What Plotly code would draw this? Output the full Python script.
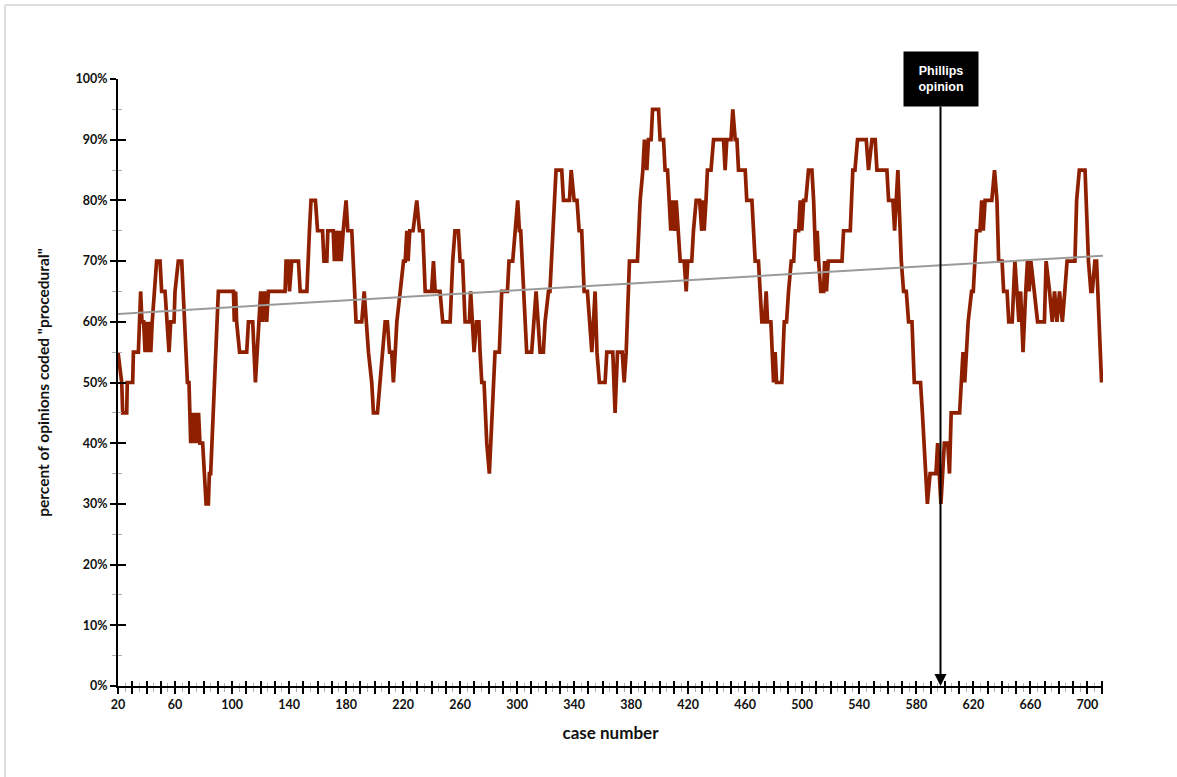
import plotly.graph_objects as go

# ---- data ----
case_x = [20, 22.6, 23.3, 26.1, 26.5, 30.3, 30.8, 34.3, 35.9, 36.8, 38, 39, 40, 41, 42, 43, 44,
          45.5, 47.1, 49.5, 50.6, 53, 54.2, 55.8, 57, 59.3, 60, 62.3, 64.7, 65.8, 68.7, 69.8,
          71, 72.2, 73.2, 74.5, 75.5, 76.5, 77.5, 79.4, 80.6, 81.8, 83.4, 84.1, 85, 90.4, 101,
          101.6, 102.5, 103.2, 105.3, 110.3, 111.5, 114.5, 116.4, 117.8, 120.1, 121.5, 122.8,
          124.3, 125.5, 137.2, 137.9, 139.3, 140.3, 141.9, 146.6, 147.8, 152.5, 154.3, 155.4,
          158.5, 160, 163.5, 164.5, 166.5, 167.2, 171, 171.8, 173, 174.5, 175.5, 176.5, 178,
          180, 181.2, 182.8, 184, 187, 191, 192.7, 194, 195.7, 198, 199.2, 202, 204, 206, 207.4,
          209, 210.5, 212, 213.2, 214.5, 215.6, 218, 220.3, 221.5, 222.6, 223.5, 224.7, 227,
          229.6, 231.5, 233.8, 235.5, 240, 241.3, 242.5, 245.9, 247.8, 253, 254.8, 256.4, 258.8,
          260, 261.7, 263.5, 266.5, 267.4, 269.8, 271.5, 273.2, 274, 275.2, 276.8, 278.7, 280.5,
          284.5, 287.5, 289.2, 293.2, 294.3, 296.9, 298.5, 300.4, 301.6, 302.5, 306.7, 310.2,
          313.3, 316.1, 318.4, 319.6, 322, 323, 327.3, 331.3, 332.5, 336.7, 337.9, 340, 342,
          343.5, 345.3, 347, 349.3, 350.7, 352.4, 354.7, 356, 357.7, 361.7, 362.9, 367.1, 368.7,
          370.4, 373.7, 375.1, 376.5, 378.8, 384.4, 386.3, 388.2, 389.3, 391, 392.1, 394, 395,
          399.2, 400.3, 402.7, 403.8, 405.5, 406.5, 407.8, 409, 410.5, 411.6, 413.2, 414.4,
          417.2, 418.6, 419.7, 422.5, 423.7, 425.6, 428, 429.5, 430.5, 431.2, 432.5, 433.5, 436,
          437.8, 444.8, 445.9, 447.1, 450, 451.3, 453, 454.2, 455.3, 460, 461.1, 464.7, 465.8,
          467, 469.3, 471.7, 473.5, 474.7, 475.7, 478, 479.9, 481, 482, 485.7, 487.4, 489, 490.4,
          492.3, 494, 495.1, 497.5, 498.6, 499.7, 501, 502.5, 504.4, 506.8, 508, 509.5, 510.5,
          511.5, 513, 515, 515.7, 517, 518.3, 520, 527.9, 529, 533.7, 535.5, 537, 538.8, 544.9,
          546.5, 548.9, 551.2, 552.4, 559.4, 560.6, 563.6, 564.8, 567.1, 569.5, 571.1, 573,
          574.6, 577, 578.6, 583, 584.3, 587.8, 589.7, 593.8, 595, 596, 597.3, 598.5, 599.7,
          602.1, 603.3, 604.5, 610.4, 611.6, 612.8, 614, 615.2, 616.4, 618.8, 620, 622.3, 624.7,
          625.9, 627, 628.3, 633, 634.9, 636.6, 637.8, 640.2, 641.3, 643.7, 644.9, 647.3, 649.2,
          650.9, 652, 653.2, 654.9, 656.8, 658, 659.2, 660.4, 662.8, 665.1, 669.9, 671.1, 673.5,
          675.4, 677, 678.7, 680.5, 682.5, 684.2, 685.8, 691.3, 692.5, 694.4, 698.4, 700.8,
          702.5, 703.5, 705.3, 706.5, 710]
pct_y = [55, 50, 45, 45, 50, 50, 55, 55, 65, 60, 60, 55, 60, 55, 60, 55, 60,
         65, 70, 70, 65, 65, 60, 55, 60, 60, 65, 70, 70, 65, 50, 50,
         40, 45, 40, 45, 40, 45, 40, 40, 35, 30, 30, 35, 35, 65, 65,
         60, 65, 60, 55, 55, 60, 60, 50, 55, 65, 60, 65,
         60, 65, 65, 70, 70, 65, 70, 70, 65, 65, 75, 80,
         80, 75, 75, 70, 70, 75, 75, 70, 75, 70, 75, 70, 75,
         80, 75, 75, 75, 60, 60, 65, 60, 55, 50, 45, 45, 50, 55, 60,
         60, 55, 55, 50, 55, 60, 65, 70, 70, 75, 70, 75, 75,
         80, 75, 75, 65, 65, 70, 65, 65, 60, 60, 70, 75, 75,
         70, 70, 60, 60, 65, 55, 60, 60, 55, 50, 50, 40, 35,
         55, 55, 65, 65, 70, 70, 75, 80, 75, 75, 55, 55,
         65, 55, 55, 60, 65, 65, 85, 85, 80, 80, 85, 80, 80,
         75, 75, 65, 65, 60, 55, 65, 55, 50, 50, 55, 55, 45,
         55, 55, 50, 55, 70, 70, 80, 85, 90, 85, 90, 90, 95,
         95, 90, 90, 85, 85, 80, 75, 80, 75, 80, 75, 70,
         70, 65, 70, 70, 75, 80, 80, 75, 80, 75, 80, 85, 85,
         90, 90, 85, 90, 90, 95, 90, 90, 85, 85, 80, 80, 75,
         70, 70, 60, 60, 65, 60, 60, 50, 55, 50, 50, 60, 60, 65,
         70, 70, 75, 75, 80, 75, 80, 80, 85, 85, 80, 70, 75,
         70, 65, 65, 70, 65, 70, 70, 70, 75, 75, 85, 85, 90, 90,
         85, 90, 90, 85, 85, 80, 80, 75, 85, 70, 65, 65,
         60, 60, 50, 50, 45, 30, 35, 35, 40, 35, 30, 35, 40,
         40, 35, 45, 45, 50, 55, 50, 55, 60, 65, 65, 75, 75,
         80, 75, 80, 80, 85, 80, 70, 70, 65, 65, 60, 60, 70,
         65, 60, 65, 55, 65, 70, 65, 70, 65, 60, 60, 70, 65,
         60, 65, 60, 65, 60, 65, 70, 70, 80, 85, 85, 70,
         65, 65, 70, 70, 50]

trend_x = [20, 711]
trend_y = [61.3, 70.9]

x_label_vals = [20, 60, 100, 140, 180, 220, 260, 300, 340, 380, 420, 460, 500, 540, 580, 620, 660, 700]
x_label_text = ["20", "60", "100", "140", "180", "220", "260", "300", "340", "380", "420",
                "460", "500", "540", "580", "620", "660", "700"]
y_label_vals = [0, 10, 20, 30, 40, 50, 60, 70, 80, 90, 100]
y_label_text = ["0%", "10%", "20%", "30%", "40%", "50%", "60%", "70%", "80%", "90%", "100%"]

phillips_case = 597
phillips_label = "Phillips<br>opinion"

# ---- styling ----
X_RANGE = [20, 711]
Y_RANGE = [0, 100]
COND = "Lato, Roboto, sans-serif"

x_tick_pos = list(range(20, 711, 10))
x_tick_txt = [x_label_text[x_label_vals.index(v)] if v in x_label_vals else "" for v in x_tick_pos]

fig = go.Figure()
fig.add_trace(go.Scatter(x=trend_x, y=trend_y, mode="lines",
                         line=dict(color="#9a9a9a", width=2), hoverinfo="skip",
                         xaxis="x2", yaxis="y2", showlegend=False))
fig.add_trace(go.Scatter(x=case_x, y=pct_y, mode="lines",
                         line=dict(color="#8e2000", width=3.7), showlegend=False))

tickfont = dict(family=COND, size=12.5, color="#111", weight="bold")
common_x = dict(range=X_RANGE, showgrid=False, zeroline=False, showline=True,
                linecolor="black", linewidth=2)
fig.update_layout(
    width=1177, height=777,
    margin=dict(l=118, r=74, t=79, b=91),
    paper_bgcolor="white", plot_bgcolor="white",
    font=dict(family=COND, color="#111"),
    xaxis=dict(**common_x, tickmode="array", tickvals=x_tick_pos, ticktext=x_tick_txt,
               ticks="outside", ticklen=6, tickwidth=1.5, tickcolor="black",
               tickfont=tickfont,
               minor=dict(dtick=5, tick0=20, ticks="outside", ticklen=4, tickwidth=1,
                          tickcolor="#b0b0b0"),
               title=dict(text="case number",
                          font=dict(family=COND, size=17, weight="bold"), standoff=16)),
    yaxis=dict(range=Y_RANGE, showgrid=False, zeroline=False, showline=True,
               linecolor="black", linewidth=2,
               tickmode="array", tickvals=y_label_vals, ticktext=y_label_text,
               ticks="outside", ticklen=6, tickwidth=1.5, tickcolor="black",
               tickfont=tickfont,
               minor=dict(dtick=5, ticks="outside", ticklen=4, tickwidth=1,
                          tickcolor="#b0b0b0"),
               title=dict(text='percent of opinions coded "procedural"',
                          font=dict(family=COND, size=15.5, weight="bold"), standoff=22)),
    xaxis2=dict(**common_x, overlaying="x", anchor="y2", tickmode="array",
                tickvals=x_tick_pos, ticks="inside", ticklen=5, tickwidth=1.5,
                tickcolor="black", showticklabels=False,
                minor=dict(dtick=5, tick0=20, ticks="inside", ticklen=3, tickwidth=1,
                           tickcolor="#b0b0b0")),
    yaxis2=dict(range=Y_RANGE, overlaying="y", anchor="x2", showgrid=False, zeroline=False,
                showline=True, linecolor="black", linewidth=2, tickmode="array",
                tickvals=y_label_vals, ticks="inside", ticklen=8, tickwidth=1.5,
                tickcolor="black", showticklabels=False,
                minor=dict(dtick=5, ticks="inside", ticklen=4, tickwidth=1,
                           tickcolor="#b0b0b0")),
)

fig.add_annotation(x=phillips_case, y=0, xref="x", yref="y",
                   ax=phillips_case, ay=100, axref="x", ayref="y",
                   text="<b>" + phillips_label + "</b>",
                   font=dict(family="Liberation Sans, Arial, sans-serif", size=12.5, color="white"),
                   bgcolor="black", borderpad=8, width=58, height=38,
                   showarrow=True, arrowhead=2, arrowsize=1.2, arrowwidth=2,
                   arrowcolor="black", standoff=0)

# thin frame lines (top and left) like the reference
fig.add_shape(type="line", xref="paper", yref="paper", x0=-0.1147, x1=1.08,
              y0=1.1219, y1=1.1219, line=dict(color="#bdbdbd", width=1))
fig.add_shape(type="line", xref="paper", yref="paper", x0=-0.1147, x1=-0.1147,
              y0=1.1219, y1=-0.16, line=dict(color="#bdbdbd", width=1))

fig.write_html("out.html", config={"displayModeBar": False},
               post_script="document.body.style.margin='0px';")
